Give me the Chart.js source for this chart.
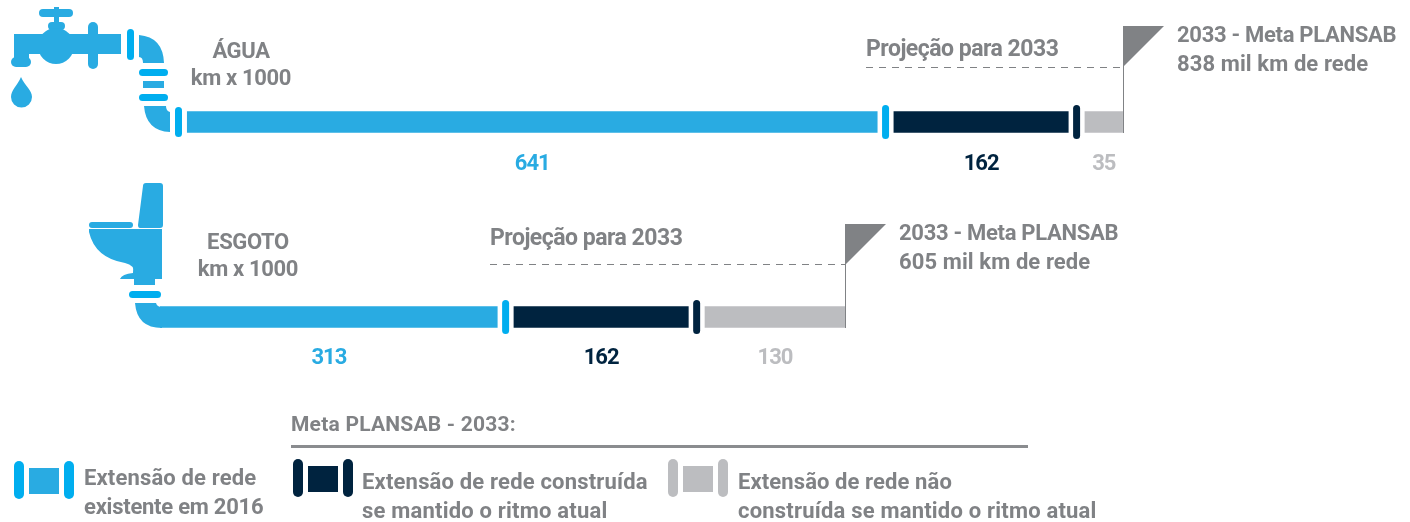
<!DOCTYPE html>
<html>
<head>
<meta charset="utf-8">
<script src="https://cdn.jsdelivr.net/npm/chart.js@4"></script>
<style>
    html, body { margin: 0; padding: 0; background: #fff; }
    #box { width: 1410px; height: 522px; }
</style>
</head>
<body>
<div id="box"><canvas id="grafico"></canvas></div>
<script>
var categorias = ['ÁGUA', 'ESGOTO'];
var existente = [641, 313];
var construida = [162, 162];
var naoConstruida = [35, 130];
var metas = [838, 605];

// onde cada tubo comeca e o vao entre os trechos, em km x 1000
var inicioTubo = [0, -25];
var vao = 15.5;

var azul = '#29abe2', ciano = '#00aeef', marinho = '#00233f', cinzaClaro = '#bcbdc0', cinza = '#808285';

function trechos(index) {
    var a = inicioTubo[index];
    var b = a + existente[index];
    var c = b + vao;
    var d = c + construida[index];
    var e = d + vao;
    var f = e + naoConstruida[index];
    return [[a, b], [c, d], [e, f]];
}

function serie(i) {
    return categorias.map(function (nome, index) {
        return trechos(index)[i];
    });
}

function texto(ctx, str, x, y, cor, tam, alinhamento, espaco) {
    ctx.font = '700 ' + tam + 'px Roboto';
    ctx.letterSpacing = (espaco || 0) + 'px';
    ctx.fillStyle = cor;
    ctx.textAlign = alinhamento || 'left';
    ctx.textBaseline = 'middle';
    ctx.fillText(str, x, y);
}

function capsula(ctx, x, y, w, h, cor) {
    ctx.fillStyle = cor;
    ctx.beginPath();
    ctx.roundRect(x, y, w, h, Math.min(w, h) / 2);
    ctx.fill();
}

function forma(ctx, cor, d) {
    ctx.fillStyle = cor;
    ctx.fill(new Path2D(d));
}

function desenhaTorneira(ctx) {
    capsula(ctx, 39, 9, 34, 8, azul);
    ctx.fillStyle = azul;
    ctx.fillRect(54, 7, 5, 17);
    capsula(ctx, 48, 22, 17, 8, azul);
    ctx.beginPath();
    ctx.arc(56, 46, 18, 0, Math.PI * 2);
    ctx.fill();
    ctx.fillRect(14, 34, 107, 20);
    ctx.fillRect(14, 34, 15, 26);
    capsula(ctx, 11, 57, 20, 10, azul);
    capsula(ctx, 88, 22, 10, 47, azul);
    capsula(ctx, 127, 29, 7, 31, ciano);
    forma(ctx, azul, 'M139,35 Q163,37 164,63 L143,63 Q143,57 139,57 Z');
    capsula(ctx, 139, 69, 29, 7, ciano);
    ctx.fillStyle = azul;
    ctx.fillRect(143, 81, 21, 7);
    capsula(ctx, 139, 94, 29, 7, ciano);
    forma(ctx, azul, 'M144,106 L166,106 Q166,111 170,112 L170,132 Q146,131 144,106 Z');
    capsula(ctx, 175, 107, 7, 30, ciano);
    forma(ctx, azul, 'M21,77 C25,86 32,90 32,97 A10.5,10.5 0 0 1 11,97 C11,90 17,86 21,77 Z');
}

function desenhaVaso(ctx) {
    forma(ctx, azul, 'M146,183 L160,183 Q163,183 163,186 L163,225 Q163,228 160,228 L140,228 Q138,228 138,225 L143,186 Q143,183 146,183 Z');
    capsula(ctx, 89, 222, 44, 6, azul);
    forma(ctx, azul, 'M89,229 L162,229 L162,279 L155,279 L155,285 L134,285 L134,279 L120,279 Q122,274 133,273 Q135,265 125,263 Q95,258 89,232 Z');
    capsula(ctx, 129, 291, 32, 7, ciano);
    forma(ctx, azul, 'M135,303 L156,303 Q157,307 162,307 L162,328 Q137,328 135,303 Z');
}

function desenhaMeta(ctx, xMeta, base, topo, linhaY, xLinha) {
    ctx.strokeStyle = cinza;
    ctx.lineWidth = 1;
    ctx.setLineDash([7, 6]);
    ctx.beginPath();
    ctx.moveTo(xLinha, linhaY + 0.5);
    ctx.lineTo(xMeta, linhaY + 0.5);
    ctx.stroke();
    ctx.setLineDash([]);
    ctx.beginPath();
    ctx.moveTo(xMeta + 0.5, topo);
    ctx.lineTo(xMeta + 0.5, base);
    ctx.stroke();
    ctx.fillStyle = cinza;
    ctx.beginPath();
    ctx.moveTo(xMeta, topo);
    ctx.lineTo(xMeta + 41, topo);
    ctx.lineTo(xMeta, topo + 41);
    ctx.closePath();
    ctx.fill();
}

function desenhaLegenda(ctx) {
    texto(ctx, 'Meta PLANSAB - 2033:', 291, 425.5, cinza, 21, 'left', 0.22);
    ctx.fillStyle = '#8a8c8f';
    ctx.fillRect(291, 445, 737, 3);

    var itens = [
        { x: 14, y: 461, cap: ciano, cor: azul, l1: 'Extensão de rede', e1: 0.15, l2: 'existente em 2016', e2: -0.25, tx: 84, ty: 479.5 },
        { x: 293, y: 459, cap: marinho, cor: marinho, l1: 'Extensão de rede construída', e1: 0.18, l2: 'se mantido o ritmo atual', e2: 0.2, tx: 362, ty: 483.5 },
        { x: 668, y: 459, cap: cinzaClaro, cor: cinzaClaro, l1: 'Extensão de rede não', e1: 0.1, l2: 'construída se mantido o ritmo atual', e2: 0.2, tx: 738, ty: 483.5 }
    ];
    itens.forEach(function (item) {
        capsula(ctx, item.x, item.y, 10, 38, item.cap);
        capsula(ctx, item.x + 50, item.y, 10, 38, item.cap);
        ctx.fillStyle = item.cor;
        ctx.fillRect(item.x + 15, item.y + 7, 30, 26);
        texto(ctx, item.l1, item.tx, item.ty, cinza, 22, 'left', item.e1);
        texto(ctx, item.l2, item.tx, item.ty + 28.5, cinza, 22, 'left', item.e2);
    });
}

var desenhos = {
    id: 'desenhos',
    afterDatasetsDraw: function (chart) {
        var ctx = chart.ctx;
        var x = chart.scales.x;
        var y = chart.scales.y;
        ctx.save();

        desenhaTorneira(ctx);
        desenhaVaso(ctx);

        var coresTexto = [azul, marinho, cinzaClaro];
        var valores = [existente, construida, naoConstruida];
        var posValor = [164.5, 358.5];
        var posProjecao = [{ x: 866, y: 50.5, linha: 67 }, { x: 490, y: 239.5, linha: 264 }];
        var posMeta = [{ x: 1177, y: 36, topo: 26 }, { x: 899, y: 234, topo: 224 }];
        var titulo = [{ x: 241, y: 52 }, { x: 248, y: 243 }];

        categorias.forEach(function (nome, index) {
            var t = trechos(index);
            var yBarra = y.getPixelForValue(index);

            // juntas entre os trechos
            [0, 1].forEach(function (j) {
                var meio = x.getPixelForValue(t[j][1] + vao / 2);
                capsula(ctx, meio - 3.5, yBarra - 17, 7, 34, j === 0 ? ciano : marinho);
            });

            t.forEach(function (par, j) {
                var centro = x.getPixelForValue((par[0] + par[1]) / 2);
                texto(ctx, String(valores[j][index]), centro, posValor[index], coresTexto[j], 22, 'center', -1);
            });

            var xMeta = Math.round(x.getPixelForValue(t[2][1]));
            desenhaMeta(ctx, xMeta, yBarra + 11, posMeta[index].topo, posProjecao[index].linha, posProjecao[index].x);

            texto(ctx, 'Projeção para 2033', posProjecao[index].x, posProjecao[index].y, cinza, 23, 'left', -0.5);
            texto(ctx, '2033 - Meta PLANSAB', posMeta[index].x, posMeta[index].y, cinza, 22, 'left', -0.3);
            texto(ctx, metas[index] + ' mil km de rede', posMeta[index].x, posMeta[index].y + 29, cinza, 22, 'left', 0.1);
            texto(ctx, nome, titulo[index].x, titulo[index].y, cinza, 22, 'center', -0.35);
            texto(ctx, 'km x 1000', titulo[index].x, titulo[index].y + 27, cinza, 22, 'center', -0.35);
        });

        desenhaLegenda(ctx);
        ctx.restore();
    }
};

var ctx = document.getElementById('grafico').getContext('2d');
new Chart(ctx, {
    type: 'bar',
    data: {
        labels: categorias,
        datasets: [
            { label: 'Extensão de rede existente em 2016', data: serie(0), backgroundColor: azul },
            { label: 'Extensão de rede construída se mantido o ritmo atual', data: serie(1), backgroundColor: marinho },
            { label: 'Extensão de rede não construída se mantido o ritmo atual', data: serie(2), backgroundColor: cinzaClaro }
        ]
    },
    options: {
        indexAxis: 'y',
        responsive: true,
        maintainAspectRatio: false,
        animation: false,
        layout: { padding: { top: 24.5, bottom: 107.5, left: 0, right: 0 } },
        datasets: { bar: { grouped: false, barThickness: 21 } },
        scales: {
            x: { type: 'linear', min: -174, max: 1136, display: false },
            y: { display: false }
        },
        plugins: { legend: { display: false }, tooltip: { enabled: false } }
    },
    plugins: [desenhos]
});
</script>
</body>
</html>
